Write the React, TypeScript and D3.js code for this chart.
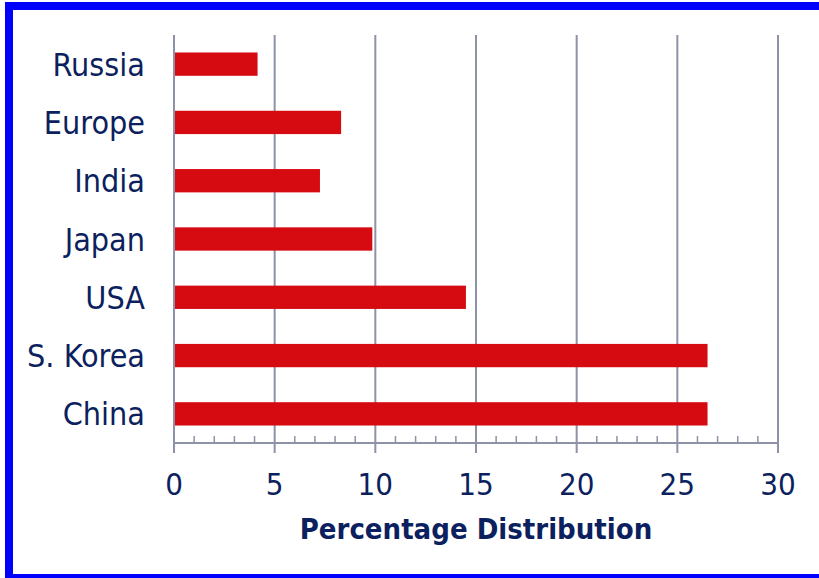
import React from "react";
import * as d3 from "d3";

const categories = ["Russia", "Europe", "India", "Japan", "USA", "S. Korea", "China"];
const values = [4.15, 8.3, 7.25, 9.85, 14.5, 26.5, 26.5];
const xTicks = [0, 5, 10, 15, 20, 25, 30];
const minorTicks = d3.range(0, 31, 1);
const xTitle = "Percentage Distribution";

const W = 819;
const H = 578;
const left = 174;
const right = 778;
const top = 35;
const bottom = 443;
const navy = "#0c1f5e";
const grid = "#8e92a6";
const font = "'DejaVu Sans Condensed', 'DejaVu Sans', sans-serif";

export default function App() {
  const x = d3.scaleLinear().domain([0, 30]).range([left, right]);
  const y = d3.scaleBand<string>().domain(categories).range([top, bottom]).paddingInner(0.6).paddingOuter(0.3);
  return (
    <div style={{ position: "absolute", left: 0, top: 0 }}>
      <svg width={W} height={H} style={{ display: "block", background: "#fff" }}>
        <rect x={9} y={6} width={830} height={572} fill="#fff" stroke="#0000ff" strokeWidth={8} />
        {xTicks.map((t) => (
          <line key={"g" + t} x1={x(t)} x2={x(t)} y1={top} y2={bottom + 10} stroke={grid} strokeWidth={2} />
        ))}
        <line x1={left} x2={right} y1={bottom} y2={bottom} stroke={grid} strokeWidth={2} />
        {minorTicks.filter((t) => t % 5 !== 0).map((t) => (
          <line key={"m" + t} x1={x(t)} x2={x(t)} y1={bottom - 7} y2={bottom} stroke={grid} strokeWidth={1.5} />
        ))}
        {categories.map((c, i) => (
          <rect key={c} x={x(0) + 1} y={y(c)} width={x(values[i]) - x(0) - 1} height={y.bandwidth()} fill="#d60b12" />
        ))}
        {categories.map((c) => (
          <text key={"l" + c} x={145} y={(y(c) as number) + y.bandwidth() / 2} dy="0.36em" textAnchor="end" fontFamily={font} fontSize={32} fill={navy}>
            {c}
          </text>
        ))}
        {xTicks.map((t) => (
          <text key={"t" + t} x={x(t)} y={495} textAnchor="middle" fontFamily={font} fontSize={31} fill={navy}>
            {t}
          </text>
        ))}
        <text x={476} y={539} textAnchor="middle" fontFamily={font} fontSize={29} fontWeight="bold" fill={navy}>
          {xTitle}
        </text>
      </svg>
    </div>
  );
}
